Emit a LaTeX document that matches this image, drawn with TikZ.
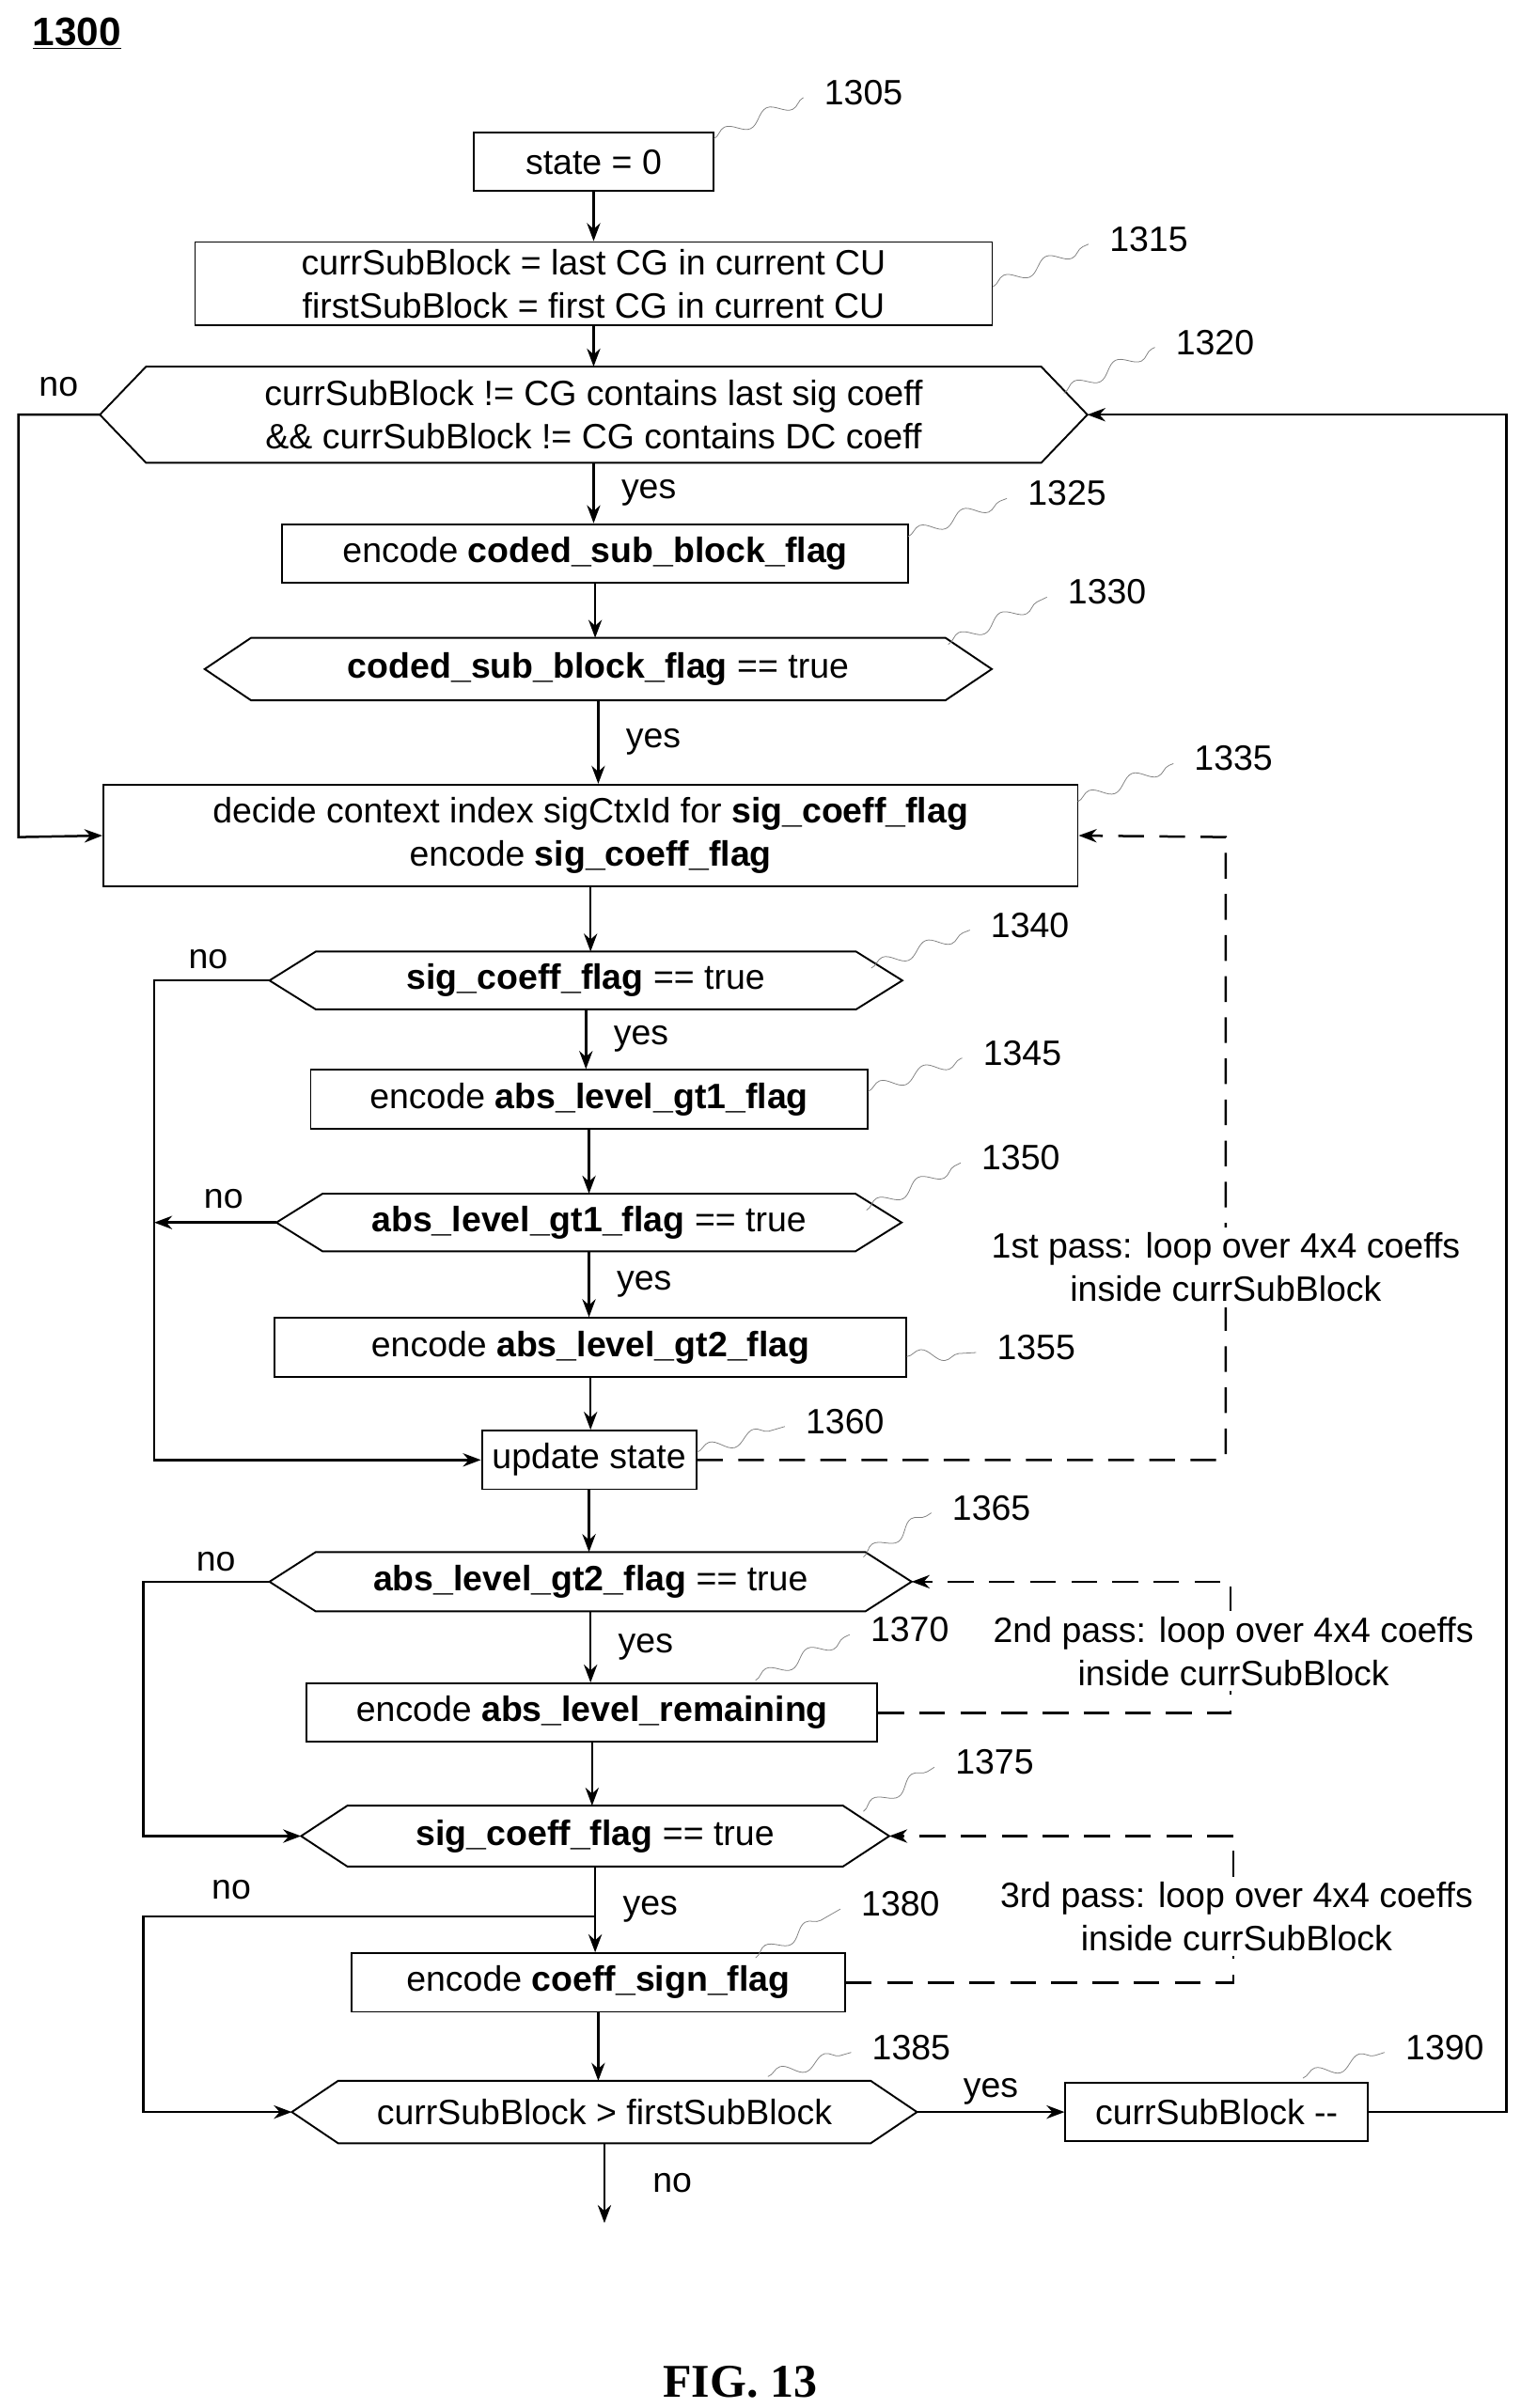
\documentclass[tikz,border=0pt]{standalone}
\usepackage{fontspec}
\setmainfont{Liberation Sans}
\newfontfamily\figfont{Liberation Serif}
\usetikzlibrary{decorations.pathmorphing,arrows.meta}

\tikzset{
  box/.style={draw, line width=1pt, minimum height=11.4mm, inner sep=1mm, align=center},
  hex/.style={minimum height=11.4mm, inner sep=1mm, align=center},
  flow/.style={line width=1.3pt, -{Stealth[length=3.5mm,width=2.6mm]}},
  pass/.style={line width=1.3pt, dash pattern=on 5mm off 3mm, -{Stealth[length=3.5mm,width=2.6mm]}},
  lead/.style={gray, decorate, decoration={snake, amplitude=1.2mm, segment length=9mm}},
  lbl/.style={inner sep=0pt}
}
% hexagon decision: name, x, y, width, height, text
\newcommand\decide[6]{
  \node[hex, minimum width=#4*0.3mm, minimum height=#5*0.3mm] (#1) at (#2,#3) {#6};
  \draw[line width=1pt] (#1.west) -- ([xshift=9mm]#1.north west) -- ([xshift=-9mm]#1.north east)
    -- (#1.east) -- ([xshift=-9mm]#1.south east) -- ([xshift=9mm]#1.south west) -- cycle;
}

\begin{document}
\begin{tikzpicture}[x=0.3mm, y=-0.3mm, font=\fontsize{19.5}{24}\selectfont]
  \useasboundingbox (0,0) rectangle (986,1562);

  % title
  \node[lbl, font=\fontsize{22}{26}\selectfont\bfseries] (title) at (50,22) {\underline{1300}};

  % steps
  \node[box, minimum width=155*0.3mm] (s1305) at (385,105) {state = 0};
  \node[box, minimum width=517*0.3mm, minimum height=54*0.3mm] (s1315) at (385,184)
    {currSubBlock = last CG in current CU\\firstSubBlock = first CG in current CU};
  \decide{d1320}{385}{269}{640}{62}{currSubBlock != CG contains last sig coeff\\\&\& currSubBlock != CG contains DC coeff}
  \node[box, minimum width=406*0.3mm] (s1325) at (386,359) {encode \textbf{coded\_sub\_block\_flag}};
  \decide{d1330}{388}{434}{510}{40}{\textbf{coded\_sub\_block\_flag} == true}
  \node[box, minimum width=632*0.3mm, minimum height=66*0.3mm] (s1335) at (383,542)
    {decide context index sigCtxId for \textbf{sig\_coeff\_flag}\\encode \textbf{sig\_coeff\_flag}};
  \decide{d1340}{380}{636}{410}{37}{\textbf{sig\_coeff\_flag} == true}
  \node[box, minimum width=361*0.3mm] (s1345) at (382,713) {encode \textbf{abs\_level\_gt1\_flag}};
  \decide{d1350}{382}{793}{405}{37}{\textbf{abs\_level\_gt1\_flag} == true}
  \node[box, minimum width=410*0.3mm] (s1355) at (383,874) {encode \textbf{abs\_level\_gt2\_flag}};
  \node[box, minimum width=139*0.3mm] (s1360) at (382,947) {update state};
  \decide{d1365}{383}{1026}{416}{38}{\textbf{abs\_level\_gt2\_flag} == true}
  \node[box, minimum width=370*0.3mm] (s1370) at (384,1111) {encode \textbf{abs\_level\_remaining}};
  \decide{d1375}{386}{1191}{381}{39}{\textbf{sig\_coeff\_flag} == true}
  \node[box, minimum width=320*0.3mm] (s1380) at (388,1286) {encode \textbf{coeff\_sign\_flag}};
  \decide{d1385}{392}{1370}{405}{40}{currSubBlock {>} firstSubBlock}
  \node[box, minimum width=196*0.3mm] (s1390) at (789,1370) {currSubBlock {-}{-}};

  % reference numerals
  \foreach \num/\px/\py/\sx/\sy in {1305/560/60/463/90, 1315/745/155/644/186, 1320/788/222/690/255,
      1325/692/320/589/348, 1330/718/384/615/418, 1335/800/492/699/520, 1340/668/600/565/628,
      1345/663/683/563/708, 1350/662/751/562/785, 1355/672/874/588/880, 1360/548/922/452/942,
      1365/643/978/560/1010, 1370/590/1057/490/1090, 1375/645/1143/560/1175, 1380/584/1235/490/1270,
      1385/591/1328/498/1347, 1390/937/1328/845/1348} {
    \node[lbl] (n\num) at (\px,\py) {\num};
    \draw[lead] (\sx,\sy) -- ([xshift=-4mm,yshift=-1mm]n\num.west);
  }

  % main flow
  \draw[flow] (s1305) -- (s1305 |- s1315.north);
  \draw[flow] (s1315) -- (s1315 |- d1320.north);
  \draw[flow] (d1320) -- node[right, xshift=4mm] {yes} (d1320 |- s1325.north);
  \draw[flow] (s1325) -- (s1325 |- d1330.north);
  \draw[flow] (d1330) -- node[right, xshift=4mm] {yes} (d1330 |- s1335.north);
  \draw[flow] (d1320.west) -- (12,269) -- (12,543) -- (s1335.west);
  \node[lbl] (no1320) at (38,251) {no};
  \draw[flow] (s1335) -- (s1335 |- d1340.north);
  \draw[flow] (d1340) -- node[right, xshift=4mm] {yes} (d1340 |- s1345.north);
  \draw[flow] (s1345) -- (s1345 |- d1350.north);
  \draw[flow] (d1350) -- node[right, xshift=4mm] {yes} (d1350 |- s1355.north);
  \draw[flow] (s1355) -- (s1355 |- s1360.north);
  \draw[flow] (d1340.west) -- (100,636) -- (100,947) -- (s1360.west);
  \node[lbl] (no1340) at (135,622) {no};
  \coordinate (j1350) at (100,793);
  \draw[flow] (d1350.west) -- (j1350);
  \node[lbl] (no1350) at (145,778) {no};

  \draw[flow] (s1360) -- (s1360 |- d1365.north);
  \draw[flow] (d1365) -- node[right, xshift=4mm] {yes} (d1365 |- s1370.north);
  \draw[flow] (s1370) -- (s1370 |- d1375.north);
  \draw[flow] (d1365.west) -- (93,1026) -- (93,1191) -- (d1375.west);
  \node[lbl] (no1365) at (140,1013) {no};
  \draw[flow] (d1375) -- node[right, xshift=4mm] {yes} (d1375 |- s1380.north);
  \coordinate (j1375) at (386,1243);
  \draw[flow] (j1375) -- (93,1243) -- (93,1370) -- (d1385.west);
  \node[lbl] (no1375) at (150,1226) {no};
  \draw[flow] (s1380) -- (s1380 |- d1385.north);
  \draw[flow] (d1385) -- node[above] {yes} (s1390);
  \draw[flow] (s1390.east) -- (977,1370) -- (977,269) -- (d1320.east);
  \coordinate (end) at (392,1442);
  \draw[flow] (d1385) -- node[right, xshift=8mm] {no} (end);

  % passes
  \draw[pass] (s1360.east) -- (795,947) -- (795,543) -- (s1335.east);
  \node[fill=white, align=center, inner sep=1mm] (p1) at (795,822) {1st pass: loop over 4x4 coeffs\\inside currSubBlock};
  \draw[pass] (s1370.east) -- (798,1111) -- (798,1026) -- (d1365.east);
  \node[fill=white, align=center, inner sep=1mm] (p2) at (800,1071) {2nd pass: loop over 4x4 coeffs\\inside currSubBlock};
  \draw[pass] (s1380.east) -- (800,1286) -- (800,1191) -- (d1375.east);
  \node[fill=white, align=center, inner sep=1mm] (p3) at (802,1243) {3rd pass: loop over 4x4 coeffs\\inside currSubBlock};

  \node[lbl, font=\fontsize{26}{30}\selectfont\bfseries\figfont] (fig) at (480,1545) {FIG. 13};
\end{tikzpicture}
\end{document}
